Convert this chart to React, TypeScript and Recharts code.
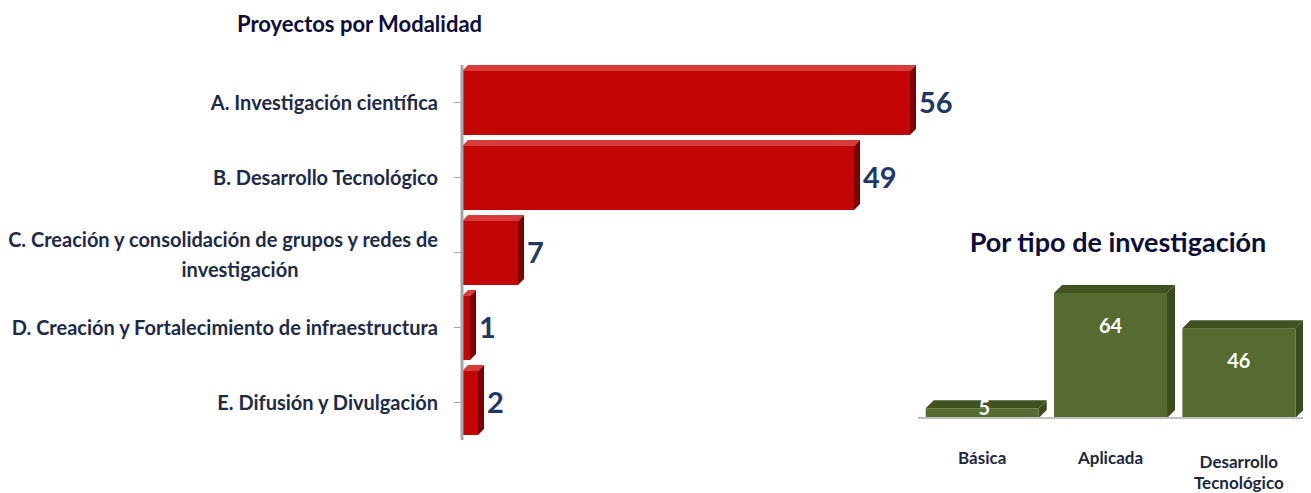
import React from "react";
import { BarChart, Bar, XAxis, YAxis, LabelList } from "recharts";

const modalidades = [
  "A. Investigación científica",
  "B. Desarrollo Tecnológico",
  "C. Creación y consolidación de grupos y redes de investigación",
  "D. Creación y Fortalecimiento de infraestructura",
  "E. Difusión y Divulgación",
];
const proyectos = [56, 49, 7, 1, 2];

const tipos = ["Básica", "Aplicada", "Desarrollo Tecnológico"];
const tipoValores = [5, 64, 46];

const modalidadData = modalidades.map((name, i) => ({ name, value: proyectos[i] }));
const tipoData = tipos.map((name, i) => ({ name, value: tipoValores[i] }));

const FONT = "Lato, 'Open Sans', sans-serif";

// fake 3D box: front face + top + right side
function makeBox(front: string, top: string, side: string, d: number) {
  return (props: any) => {
    const { x, y, width, height } = props;
    if (width <= 0 || height <= 0) return <g />;
    return (
      <g>
        <polygon
          points={`${x},${y} ${x + d},${y - d} ${x + width + d},${y - d} ${x + width},${y}`}
          fill={top}
        />
        <polygon
          points={`${x + width},${y} ${x + width + d},${y - d} ${x + width + d},${y + height - d} ${x + width},${y + height}`}
          fill={side}
        />
        <rect x={x} y={y} width={width} height={height} fill={front} />
      </g>
    );
  };
}

const RedBox = makeBox("#c20606", "#d93a3a", "#7d0000", 6);
const GreenBox = makeBox("#566b2f", "#3f5220", "#3b4b1d", 8);

function ModalidadTick(props: any) {
  const { x, y, payload } = props;
  const text: string = payload.value;
  const style = { fontFamily: FONT, fontWeight: 700, fontSize: 20, fill: "#1e2b47" };
  if (text.length > 50) {
    const cut = text.lastIndexOf(" ", 48);
    return (
      <g>
        <text x={x - 14} y={y - 13} dy={7} textAnchor="end" style={style}>
          {text.slice(0, cut)}
        </text>
        <text x={x - 212} y={y + 17} dy={7} textAnchor="middle" style={style}>
          {text.slice(cut + 1)}
        </text>
      </g>
    );
  }
  return (
    <text x={x - 14} y={y} dy={7} textAnchor="end" style={style}>
      {text}
    </text>
  );
}

function TipoTick(props: any) {
  const { x, y, payload } = props;
  const words: string[] = payload.value.split(" ");
  const style = { fontFamily: FONT, fontWeight: 700, fontSize: 17, fill: "#1c2740" };
  if (words.length > 1) {
    return (
      <g>
        <text x={x} y={y + 42} textAnchor="middle" style={style}>{words[0]}</text>
        <text x={x} y={y + 63} textAnchor="middle" style={style}>{words.slice(1).join(" ")}</text>
      </g>
    );
  }
  return (
    <text x={x} y={y + 38} textAnchor="middle" style={style}>
      {payload.value}
    </text>
  );
}

function TipoLabel(props: any) {
  const { x, y, width, height, value } = props;
  const ly = height > 40 ? y + Math.min(32, height / 2) + 8 : y + height - 3;
  return (
    <text
      x={x + width / 2 + (height > 40 ? 0 : 2)}
      y={ly}
      textAnchor="middle"
      style={{ fontFamily: FONT, fontWeight: 700, fontSize: 20, fill: "#ffffff" }}
    >
      {value}
    </text>
  );
}

export default function App() {
  return (
    <div style={{ position: "relative", width: 1295, height: 485, background: "#fff" }}>
      <div
        style={{
          position: "absolute",
          left: 0,
          top: 3,
          width: 703,
          textAlign: "center",
          fontFamily: FONT,
          fontWeight: 700,
          fontSize: 22,
          lineHeight: "26px",
          color: "#0d0d3a",
        }}
      >
        Proyectos por Modalidad
      </div>
      <div style={{ position: "absolute", left: 0, top: 0 }}>
        <BarChart
          width={960}
          height={440}
          data={modalidadData}
          layout="vertical"
          margin={{ top: 57, right: 58, bottom: 8, left: 0 }}
        >
          <XAxis type="number" domain={[0, 56]} hide />
          <YAxis
            type="category"
            dataKey="name"
            width={454}
            axisLine={{ stroke: "#a6a6a6", strokeWidth: 3 }}
            tickLine={{ stroke: "#a6a6a6" }}
            tickSize={8}
            tick={<ModalidadTick />}
            interval={0}
          />
          <Bar dataKey="value" barSize={64} shape={RedBox} isAnimationActive={false}>
            <LabelList
              dataKey="value"
              position="right"
              offset={9}
              style={{ fontFamily: FONT, fontWeight: 700, fontSize: 29, fill: "#1f3864" }}
            />
          </Bar>
        </BarChart>
      </div>

      <div
        style={{
          position: "absolute",
          left: 900,
          top: 219,
          width: 420,
          textAlign: "center",
          fontFamily: FONT,
          fontWeight: 700,
          fontSize: 27,
          lineHeight: "30px",
          color: "#0d0d3a",
        }}
      >
        Por tipo de investigación
      </div>
      <div style={{ position: "absolute", left: 895, top: 270 }}>
        <BarChart
          width={400}
          height={215}
          data={tipoData}
          margin={{ top: 15, right: 0, bottom: 0, left: 15 }}
          barCategoryGap="6%"
        >
          <XAxis
            dataKey="name"
            height={75}
            axisLine={{ stroke: "#bfbfbf", strokeWidth: 2 }}
            tickLine={false}
            tick={<TipoTick />}
            interval={0}
          />
          <YAxis domain={[0, 64]} hide />
          <Bar dataKey="value" shape={GreenBox} isAnimationActive={false}>
            <LabelList dataKey="value" content={<TipoLabel />} />
          </Bar>
        </BarChart>
      </div>
    </div>
  );
}
